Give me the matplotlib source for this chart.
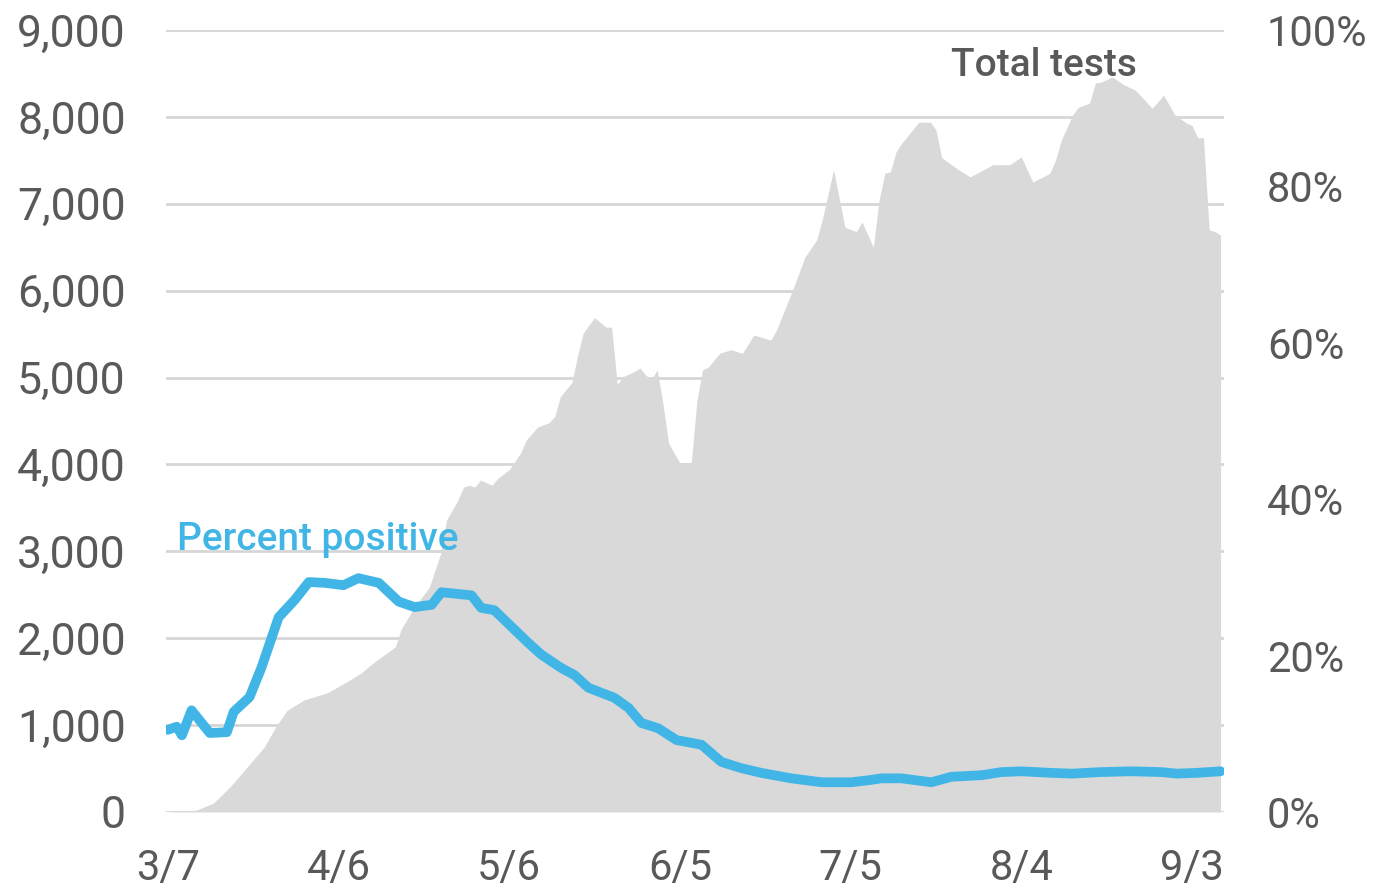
import pandas as pd
import numpy as np
import matplotlib.pyplot as plt
import matplotlib.dates as mdates
from matplotlib.ticker import FuncFormatter

# Дни от 7 марта и общее число тестов (читается с графика)
test_days = [0, 5, 8, 11, 14, 17, 19, 21, 24, 28, 31, 34, 36, 40, 41, 43, 46, 48, 49, 51,
             52, 53, 54, 55, 57, 58, 60, 62, 63, 65, 67, 68, 69, 71, 72, 73, 75, 77, 78, 79,
             80, 82, 83, 84, 85, 86, 87, 88, 89, 90, 92, 93, 94, 95, 97, 99, 101, 103, 106, 107,
             110, 112, 114, 115, 117, 119, 121, 122, 124, 125, 126, 127, 128, 129, 132, 134, 135, 136, 139, 141,
             145, 148, 150, 152, 155, 156, 157, 159, 160, 162, 163, 164, 166, 168, 170, 173, 175, 177, 179, 180,
             181, 182, 183, 184, 185]
total_tests = [0, 20, 100, 290, 520, 750, 980, 1170, 1290, 1370, 1480, 1600, 1710, 1900, 2100, 2320, 2590, 2980, 3360, 3590,
               3740, 3760, 3740, 3820, 3760, 3840, 3940, 4130, 4280, 4430, 4480, 4550, 4780, 4940, 5240, 5510, 5690, 5580, 5580, 4920,
               5010, 5070, 5110, 5030, 4970, 5090, 4710, 4250, 4130, 4020, 4020, 4740, 5090, 5120, 5280, 5320, 5280, 5490, 5430, 5550,
               6040, 6390, 6580, 6810, 7390, 6730, 6680, 6790, 6500, 7040, 7350, 7370, 7600, 7700, 7940, 7940, 7850, 7530, 7390, 7310,
               7450, 7450, 7540, 7250, 7350, 7500, 7730, 8020, 8110, 8160, 8390, 8400, 8460, 8370, 8310, 8100, 8250, 8020, 7930, 7900,
               7760, 7760, 6700, 6680, 6640]

# Доля положительных тестов, %
pct_days = [0, 1.6, 2.5, 4.2, 7.4, 10.4, 11.6, 14.4, 16.5, 19.5, 22.3, 24.8, 27.6, 30.9, 33.5, 37.1, 40.6, 43.4, 46.4, 48.1,
            53.4, 55.1, 57.4, 60.4, 63.4, 65.7, 69.2, 71.5, 73.9, 78.5, 81, 83.2, 86.2, 89.4, 93.8, 97.3, 100.8, 104.3, 109.6, 114.9,
            120.1, 123.6, 125.4, 128.9, 134.2, 137.7, 143, 146.5, 150, 155.3, 158.8, 164, 169.3, 174.6, 177.3, 180.8, 185]
pct_positive = [10.5, 10.9, 9.8, 13.0, 10.1, 10.2, 12.8, 14.7, 18.5, 24.9, 27.1, 29.4, 29.3, 29.0, 29.9, 29.3, 26.9, 26.2, 26.5, 28.1,
                27.7, 26.1, 25.8, 23.7, 21.6, 20.1, 18.4, 17.5, 15.9, 14.6, 13.3, 11.4, 10.7, 9.2, 8.6, 6.4, 5.6, 5.0, 4.3, 3.8,
                3.8, 4.1, 4.3, 4.3, 3.8, 4.5, 4.7, 5.1, 5.2, 5.0, 4.9, 5.1, 5.2, 5.1, 4.9, 5.0, 5.2]

start = pd.Timestamp("2020-03-07")
test_dates = start + pd.to_timedelta(test_days, unit="D")
pct_dates = start + pd.to_timedelta(pct_days, unit="D")
tick_dates = start + pd.to_timedelta([0, 30, 60, 90, 120, 150, 180], unit="D")

txt = "#595959"
blue = "#41B6E6"
plt.rcParams['font.family'] = ['Roboto', 'DejaVu Sans']

fig = plt.figure(figsize=(13.76, 8.91), dpi=100)
ax = fig.add_axes([0.1206, 0.0887, 0.7689, 0.8776])
ax.fill_between(test_dates, total_tests, 0, color="#D9D9D9", lw=0, zorder=2)
ax.set_ylim(0, 9000)
ax.set_yticks(range(0, 9001, 1000))
ax.yaxis.set_major_formatter(FuncFormatter(lambda v, p: f"{int(v):,}"))
ax.grid(axis="y", color="#D6D6D6", lw=2, zorder=0)
ax.set_axisbelow(True)
ax.set_xlim(start - pd.Timedelta(days=0.3), start + pd.Timedelta(days=185.6))
ax.set_xticks(tick_dates)
ax.xaxis.set_major_formatter(mdates.DateFormatter("%-m/%-d"))
ax.tick_params(axis="y", length=0, pad=29, labelsize=32, labelcolor=txt)
ax.tick_params(axis="x", length=0, pad=26, labelsize=30, labelcolor=txt)
for s in ax.spines.values():
    s.set_visible(False)

ax2 = ax.twinx()
ax2.plot(pct_dates, pct_positive, color=blue, lw=7, solid_capstyle="round", solid_joinstyle="round")
ax2.set_ylim(0, 100)
ax2.set_yticks(range(0, 101, 20))
ax2.yaxis.set_major_formatter(FuncFormatter(lambda v, p: f"{int(v)}%"))
ax2.tick_params(axis="y", length=0, pad=31, labelsize=30, labelcolor=txt)
for s in ax2.spines.values():
    s.set_visible(False)

ax2.text(start + pd.Timedelta(days=1.6), 34.8, "Percent positive", color=blue,
         fontsize=28, fontweight="medium", ha="left", va="center")
ax2.text(start + pd.Timedelta(days=137.7), 95.5, "Total tests", color=txt,
         fontsize=28, fontweight="medium", ha="left", va="center")

fig.savefig("out.png", dpi=100)
